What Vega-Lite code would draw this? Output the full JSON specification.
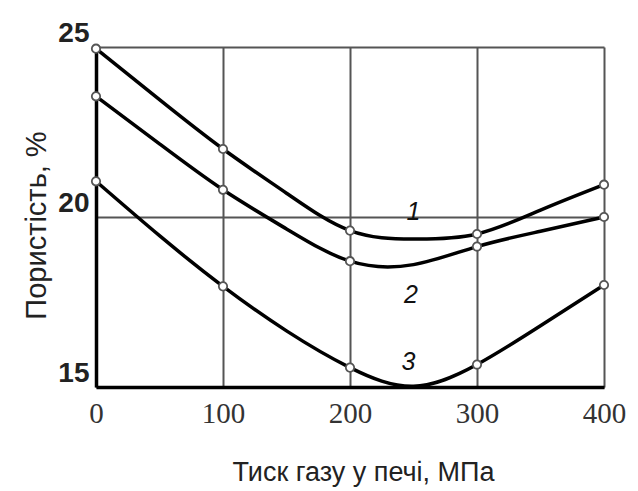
{
  "$schema": "https://vega.github.io/schema/vega-lite/v6.json",
  "width": 508,
  "height": 340,
  "autosize": {"type": "none"},
  "padding": {"left": 96, "top": 47, "right": 34, "bottom": 104},
  "background": "white",
  "config": {"view": {"stroke": null}},
  "datasets": {
    "curves": [
      {"p": 0, "v": 24.95, "c": "1"}, {"p": 50, "v": 23.45, "c": "1"}, {"p": 100, "v": 22.0, "c": "1"}, {"p": 150, "v": 20.7, "c": "1"}, {"p": 200, "v": 19.6, "c": "1"}, {"p": 250, "v": 19.35, "c": "1"}, {"p": 300, "v": 19.5, "c": "1"}, {"p": 350, "v": 20.2, "c": "1"}, {"p": 400, "v": 20.95, "c": "1"},
      {"p": 0, "v": 23.55, "c": "2"}, {"p": 50, "v": 22.15, "c": "2"}, {"p": 100, "v": 20.8, "c": "2"}, {"p": 150, "v": 19.65, "c": "2"}, {"p": 200, "v": 18.7, "c": "2"}, {"p": 250, "v": 18.6, "c": "2"}, {"p": 300, "v": 19.13, "c": "2"}, {"p": 350, "v": 19.58, "c": "2"}, {"p": 400, "v": 20.0, "c": "2"},
      {"p": 0, "v": 21.05, "c": "3"}, {"p": 50, "v": 19.45, "c": "3"}, {"p": 100, "v": 17.96, "c": "3"}, {"p": 150, "v": 16.65, "c": "3"}, {"p": 200, "v": 15.57, "c": "3"}, {"p": 250, "v": 15.02, "c": "3"}, {"p": 300, "v": 15.66, "c": "3"}, {"p": 350, "v": 16.8, "c": "3"}, {"p": 400, "v": 18.0, "c": "3"}
    ],
    "labels": [
      {"p": 250, "v": 20.15, "t": "1"},
      {"p": 248, "v": 17.7, "t": "2"},
      {"p": 246, "v": 15.75, "t": "3"}
    ]
  },
  "layer": [
    {
      "data": {"name": "curves"},
      "mark": {"type": "line", "color": "black", "strokeWidth": 3.5, "interpolate": "natural"},
      "encoding": {
        "x": {
          "field": "p", "type": "quantitative",
          "scale": {"domain": [0, 400], "nice": false},
          "axis": {
            "values": [0, 100, 200, 300, 400],
            "grid": true, "gridColor": "#555", "gridWidth": 2, "gridOpacity": 1,
            "domain": true, "domainColor": "black", "domainWidth": 3.5,
            "ticks": false,
            "labelFont": "Liberation Serif", "labelFontSize": 29, "labelColor": "#333",
            "labelPadding": 12, "labelFlush": false,
            "title": "Тиск газу у печі, МПа",
            "titleFont": "Liberation Sans", "titleFontSize": 27, "titleFontWeight": "normal", "titleColor": "#222",
            "titleX": 267, "titleY": 85, "titleBaseline": "middle", "titleAlign": "center"
          }
        },
        "y": {
          "field": "v", "type": "quantitative",
          "scale": {"domain": [15, 25], "nice": false, "zero": false},
          "axis": {
            "values": [15, 20, 25],
            "grid": true, "gridColor": "#555", "gridWidth": 2, "gridOpacity": 1,
            "domain": true, "domainColor": "black", "domainWidth": 3.5,
            "ticks": false,
            "labelFont": "Liberation Sans", "labelFontSize": 28, "labelFontWeight": "bold", "labelColor": "#222",
            "labelPadding": 7, "labelBaseline": "bottom", "labelFlush": false,
            "title": "Пористість, %",
            "titleFont": "Liberation Sans", "titleFontSize": 29, "titleFontWeight": "normal", "titleColor": "#222",
            "titleX": -60, "titleY": 178, "titleBaseline": "middle", "titleAlign": "center", "titleAngle": -90
          }
        },
        "detail": {"field": "c"}
      }
    },
    {
      "data": {"name": "curves"},
      "transform": [{"filter": "datum.p % 100 == 0"}],
      "mark": {"type": "point", "shape": "circle", "filled": false, "fill": "white", "fillOpacity": 1, "stroke": "#555", "strokeWidth": 1.8, "size": 70, "opacity": 1},
      "encoding": {
        "x": {"field": "p", "type": "quantitative"},
        "y": {"field": "v", "type": "quantitative"}
      }
    },
    {
      "data": {"name": "labels"},
      "mark": {"type": "text", "font": "Liberation Sans", "fontSize": 25, "fontStyle": "italic", "color": "#111", "align": "center", "baseline": "middle"},
      "encoding": {
        "x": {"field": "p", "type": "quantitative"},
        "y": {"field": "v", "type": "quantitative"},
        "text": {"field": "t"}
      }
    }
  ]
}
